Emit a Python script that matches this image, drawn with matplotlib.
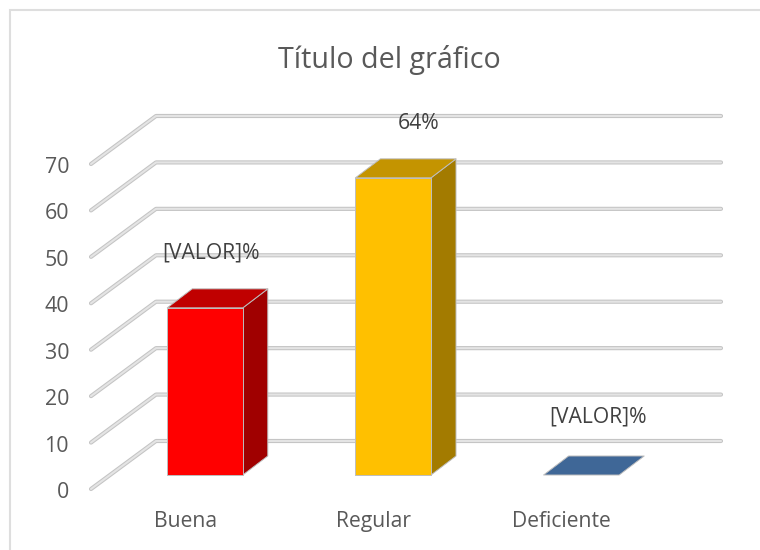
import matplotlib
matplotlib.use("Agg")
import matplotlib.pyplot as plt
from matplotlib.patches import Polygon

categories = ["Buena", "Regular", "Deficiente"]
values = [36, 64, 0]
labels = ["[VALOR]%", "64%", "[VALOR]%"]
ticks = [0, 10, 20, 30, 40, 50, 60, 70]
front_colors = ["#ff0000", "#ffc000", "#3f6797"]
top_colors = ["#c00000", "#c49400", "#3f6797"]
side_colors = ["#a00000", "#a37b00", "#345680"]

plt.rcParams["font.family"] = ["Open Sans", "DejaVu Sans"]
W, H = 760, 550
fig = plt.figure(figsize=(W / 100, H / 100), dpi=100, facecolor="white")
ax = fig.add_axes([0, 0, 1, 1])

# Scales: one category = 188.2 px, ten value units = 46.43 px
UX, UY = 188.2, 4.643
ax.set_xlim(-205 / UX, (W - 205) / UX)
ax.set_ylim(-(H - 475) / UY, 475 / UY)
ax.axis("off")

# Oblique offsets expressed in axis units
half_w = 37.8 / UX
bar_dx, bar_dy = 25 / UX, 19 / UY
wall_x0 = (91 - 205) / UX
wall_x1 = (156 - 205) / UX
wall_x2 = (721 - 205) / UX
wall_y0 = (475 - 489) / UY
wall_dy = 48 / UY

# Chart-area border
ax.plot([(9.5 - 205) / UX, (9.5 - 205) / UX, (W - 205) / UX],
        [-(H - 475) / UY, (475 - 10) / UY, (475 - 10) / UY],
        color="#dedede", lw=1.5, solid_joinstyle="miter", zorder=1)

# Gridlines
for t in ticks:
    xs = [wall_x0, wall_x1, wall_x2]
    ys = [wall_y0 + t, wall_y0 + t + wall_dy, wall_y0 + t + wall_dy]
    ax.plot(xs, ys, color="#c4c4c4", lw=3.0, solid_capstyle="round", solid_joinstyle="round", zorder=2)
    ax.plot(xs, ys, color="#e4e4e4", lw=1.5, solid_capstyle="round", solid_joinstyle="round", zorder=2.1)
    ax.text((69 - 205) / UX, wall_y0 + t - 1 / UY, str(t), ha="right", va="center_baseline",
            fontsize=15.4, color="#595959", zorder=5)

# Bars
for i, v in enumerate(values):
    l, r = i - half_w, i + half_w
    edge = dict(edgecolor="#bdbdbd", linewidth=0.7, joinstyle="round", zorder=3)
    if v > 0:
        ax.add_patch(Polygon([(r, 0), (r + bar_dx, bar_dy), (r + bar_dx, v + bar_dy), (r, v)],
                             facecolor=side_colors[i], **edge))
        ax.add_patch(Polygon([(l, 0), (r, 0), (r, v), (l, v)],
                             facecolor=front_colors[i], **edge))
    ax.add_patch(Polygon([(l, v), (r, v), (r + bar_dx, v + bar_dy), (l + bar_dx, v + bar_dy)],
                         facecolor=top_colors[i], **edge))
    ax.text((186 + 187.5 * i - 205) / UX, (475 - 519) / UY, categories[i], ha="center", va="center_baseline",
            fontsize=15.2, color="#595959", zorder=5)

# Data labels
label_pos = [((211 - 205) / UX, (475 - 250) / UY),
             ((419 - 205) / UX, (475 - 121) / UY),
             ((598 - 205) / UX, (475 - 414) / UY)]
for (x, y), s in zip(label_pos, labels):
    ax.text(x, y, s, ha="center", va="center_baseline", fontsize=15.2, color="#404040", zorder=5)

# Title
ax.text((389.5 - 205) / UX, (475 - 56) / UY, "Título del gráfico", ha="center", va="center_baseline",
        fontsize=20.6, color="#595959", zorder=5)

fig.savefig("out.png", dpi=100, facecolor="white")
